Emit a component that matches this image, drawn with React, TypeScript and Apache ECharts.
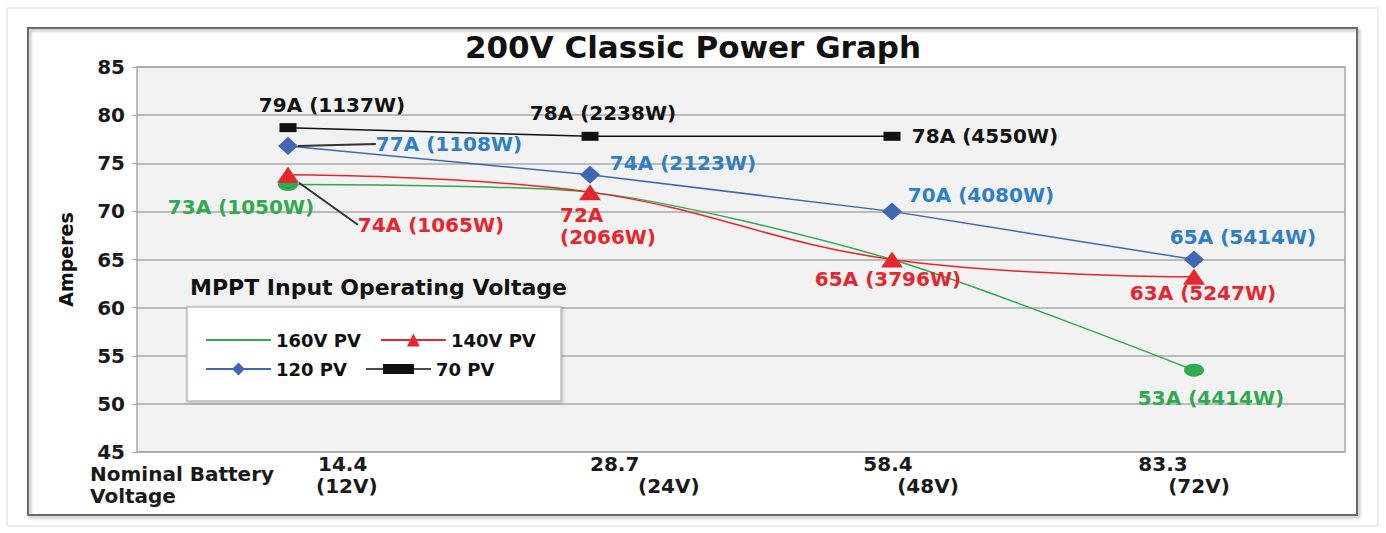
import React, { useEffect, useRef } from "react";
import * as echarts from "echarts";

// ---- data ----
const categories = ["14.4", "28.7", "58.4", "83.3"];
const xTopLabels = ["14.4", "28.7", "58.4", "83.3"];
const xBottomLabels = ["(12V)", "(24V)", "(48V)", "(72V)"];

const seriesNames = ["160V PV", "140V PV", "120 PV", "70 PV"];
const pv160 = [72.8, 72.0, 65.0, 53.5];
const pv140 = [73.8, 72.0, 65.0, 63.2];
const pv120 = [76.8, 73.8, 70.0, 65.0];
const pv70: (number | null)[] = [78.7, 77.8, 77.8, null];

const pv160Labels = ["73A (1050W)", "", "", "53A (4414W)"];
const pv140Labels = ["74A (1065W)", "72A\n(2066W)", "65A (3796W)", "63A (5247W)"];
const pv120Labels = ["77A (1108W)", "74A (2123W)", "70A (4080W)", "65A (5414W)"];
const pv70Labels = ["79A (1137W)", "78A (2238W)", "78A (4550W)", ""];

const yMin = 45;
const yMax = 85;
const yStep = 5;

// ---- styles / placements ----
const FONT = "DejaVu Sans";
const C_GREEN = "#2faa4e";
const C_RED = "#e6262d";
const C_BLUE = "#4167b3";
const C_BLUE_TXT = "#2f7fc3";
const C_BLACK = "#111111";

const offs160 = [[-47, 23], [0, 0], [0, 0], [17, 28]];
const offs140 = [[143, 50], [-30, 34], [-4, 19], [9, 16]];
const offs120 = [[161, -2], [93, -12], [89, -16], [49, -23]];
const offs70 = [[44, -23], [13, -23], [93, 0], [0, 0]];
const hide160Symbol = [1, 2];

// x label placement: [align, top-line padding, bottom-line padding]
const xLabelPlace: [string, number[], number[]][] = [
  ["left", [0, 0, 0, 30], [0, 0, 0, 28]],
  ["left", [0, 0, 0, 0], [0, 0, 0, 48]],
  ["center", [0, 8, 0, 0], [0, 0, 0, 72]],
  ["center", [0, 62, 0, 0], [0, 0, 0, 10]],
];

function buildData(
  values: (number | null)[],
  labels: string[],
  offs: number[][],
  color: string,
  leaderIdx: number[] = [],
  alignLeftIdx: number[] = [],
  noSymbolIdx: number[] = []
) {
  return values.map((v, i) => ({
    value: v,
    symbolSize: noSymbolIdx.includes(i) ? 0 : undefined,
    label: {
      show: labels[i] !== "" && v !== null,
      formatter: labels[i],
      position: "inside",
      offset: offs[i],
      color,
      align: alignLeftIdx.includes(i) ? "left" : "center",
    },
    labelLine: {
      show: leaderIdx.includes(i),
      lineStyle: { color: "#333", width: 2 },
    },
  }));
}

export default function App() {
  const ref = useRef<HTMLDivElement>(null);

  useEffect(() => {
    if (!ref.current) return;
    const chart = echarts.init(ref.current, undefined, { renderer: "svg" });

    const rich: Record<string, any> = {};
    xTopLabels.forEach((_, i) => {
      rich["a" + i] = { padding: xLabelPlace[i][1], fontSize: 20, fontWeight: "bold", fontFamily: FONT, color: "#1a1a1a", lineHeight: 22 };
      rich["b" + i] = { padding: xLabelPlace[i][2], fontSize: 20, fontWeight: "bold", fontFamily: FONT, color: "#1a1a1a", lineHeight: 22 };
    });

    const labelCommon = {
      fontFamily: FONT,
      fontWeight: "bold",
      fontSize: 20,
      verticalAlign: "middle",
      lineHeight: 22,
    };

    const option: any = {
      animation: false,
      backgroundColor: "#ffffff",
      title: [
        {
          text: "200V Classic Power Graph",
          left: "center",
          top: 31,
          padding: 0,
          textStyle: { fontFamily: FONT, fontWeight: "bold", fontSize: 31, color: "#111" },
        },
        {
          text: "MPPT Input Operating Voltage",
          left: 190,
          top: 276,
          padding: 0,
          textStyle: { fontFamily: FONT, fontWeight: "bold", fontSize: 22, color: "#111" },
        },
      ],
      graphic: [
        {
          type: "rect",
          z: 0,
          silent: true,
          shape: { x: 7, y: 8, width: 1371, height: 518 },
          style: { fill: "none", stroke: "#d8d8d8", lineWidth: 1 },
        },
        {
          type: "rect",
          z: 0,
          silent: true,
          shape: { x: 28, y: 28, width: 1329, height: 487 },
          style: { fill: "none", stroke: "#6a6a6a", lineWidth: 2, shadowBlur: 3, shadowColor: "rgba(0,0,0,0.3)", shadowOffsetX: 2, shadowOffsetY: 2 },
        },
        {
          type: "rect",
          z: 1,
          silent: true,
          shape: { x: 187, y: 307, width: 374, height: 94 },
          style: { fill: "#ffffff", stroke: "#bdbdbd", lineWidth: 1.5, shadowBlur: 3, shadowColor: "rgba(0,0,0,0.25)", shadowOffsetX: 1, shadowOffsetY: 1 },
        },
        {
          type: "text",
          z: 5,
          left: 90,
          top: 463,
          style: {
            text: "Nominal Battery\nVoltage",
            font: "bold 20px 'DejaVu Sans'",
            fill: "#1a1a1a",
            lineHeight: 22,
          },
        },
      ],
      legend: [
        {
          data: [
            { name: seriesNames[0], itemStyle: { opacity: 0 } },
            { name: seriesNames[1] },
          ],
          left: 205,
          top: 331,
          padding: 0,
          itemWidth: 65,
          itemHeight: 16,
          itemGap: 19,
          selectedMode: false,
          textStyle: { fontFamily: FONT, fontWeight: "bold", fontSize: 18, color: "#111", width: 90 },
        },
        {
          data: [
            { name: seriesNames[2] },
            { name: seriesNames[3], icon: "path://M0,4.25h65v1.5h-65z M17,0h31v10h-31z" },
          ],
          left: 205,
          top: 360,
          padding: 0,
          itemWidth: 65,
          itemHeight: 16,
          itemGap: 19,
          selectedMode: false,
          textStyle: { fontFamily: FONT, fontWeight: "bold", fontSize: 18, color: "#111", width: 90 },
        },
      ],
      grid: {
        left: 137,
        right: 41,
        top: 67,
        bottom: 81,
        show: true,
        backgroundColor: "#f2f2f2",
        borderColor: "#a8a8a8",
        borderWidth: 1.5,
      },
      xAxis: {
        type: "category",
        data: categories.map((c, i) => ({ value: c, textStyle: { align: xLabelPlace[i][0] } })),
        boundaryGap: true,
        axisLine: { show: false },
        axisTick: { show: false },
        splitLine: { show: false },
        axisLabel: {
          interval: 0,
          margin: 1,
          formatter: (_v: string, i: number) => `{a${i}|${xTopLabels[i]}}\n{b${i}|${xBottomLabels[i]}}`,
          rich,
        },
      },
      yAxis: {
        type: "value",
        min: yMin,
        max: yMax,
        interval: yStep,
        name: "Amperes",
        nameLocation: "middle",
        nameRotate: 90,
        nameGap: 62,
        nameTextStyle: { fontFamily: FONT, fontWeight: "bold", fontSize: 19, color: "#111" },
        axisLine: { show: false },
        axisTick: { show: true, length: 5, lineStyle: { color: "#a8a8a8" } },
        splitLine: { show: true, lineStyle: { color: "#a8a8a8", width: 1.5 } },
        axisLabel: { fontFamily: FONT, fontWeight: "bold", fontSize: 20, color: "#1a1a1a", margin: 12 },
      },
      series: [
        {
          name: seriesNames[0],
          type: "line",
          smooth: 0.25,
          symbol: "circle",
          symbolSize: [20, 13],
          lineStyle: { color: C_GREEN, width: 1.5 },
          itemStyle: { color: C_GREEN },
          label: { ...labelCommon },
          data: buildData(pv160, pv160Labels, offs160, C_GREEN, [], [], hide160Symbol),
          z: 2,
        },
        {
          name: seriesNames[1],
          type: "line",
          smooth: 0.4,
          symbol: "triangle",
          symbolSize: [22, 16],
          lineStyle: { color: C_RED, width: 1.5 },
          itemStyle: { color: C_RED },
          label: { ...labelCommon },
          data: buildData(pv140, pv140Labels, offs140, C_RED, [0], [1]),
          z: 3,
        },
        {
          name: seriesNames[2],
          type: "line",
          symbol: "diamond",
          symbolSize: [20, 18],
          lineStyle: { color: C_BLUE, width: 1.5 },
          itemStyle: { color: C_BLUE },
          label: { ...labelCommon },
          data: buildData(pv120, pv120Labels, offs120, C_BLUE_TXT, [0]),
          z: 4,
        },
        {
          name: seriesNames[3],
          type: "line",
          symbol: "rect",
          symbolSize: [17, 9],
          lineStyle: { color: C_BLACK, width: 1.5 },
          itemStyle: { color: C_BLACK },
          label: { ...labelCommon },
          data: buildData(pv70, pv70Labels, offs70, C_BLACK),
          z: 5,
        },
      ],
    };

    chart.setOption(option);
    return () => chart.dispose();
  }, []);

  return (
    <div
      ref={ref}
      style={{ position: "absolute", left: 0, top: 0, width: 1386, height: 533, background: "#fff" }}
    />
  );
}
